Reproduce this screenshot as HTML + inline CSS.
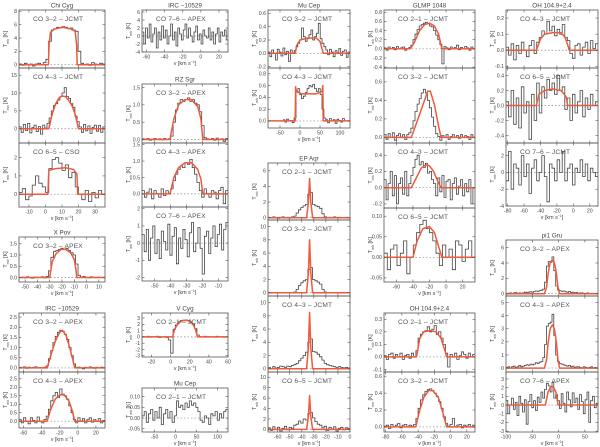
<!DOCTYPE html>
<html><head><meta charset="utf-8"><style>
html,body{margin:0;padding:0;background:#fff;}
svg{display:block;font-family:"Liberation Sans",sans-serif;}
</style></head><body>
<svg id="fig" width="600" height="447" viewBox="0 0 600 447" xmlns="http://www.w3.org/2000/svg"></svg>
<script>
// ---- observed spectra (evenly spaced over each panel's velocity range) ----
const obs_chi32=[0.1,-0.1,0.2,0,0.1,-0.2,0.1,0.2,0,0.3,0.8,3.5,5.2,5.4,5.6,5.5,5.7,5.6,5.4,5.5,5.2,5.0,2.0,0.2,0,0.1,-0.1,0.3,0.1,0,0.2,0.1];
const obs_chi43=[0.5,-1,1.2,-0.5,1.5,-1.2,0.3,1,-0.8,0.6,-1.5,1,0.2,1.5,3,5,6.5,7,8,9,10,11.5,9,8.5,7,6,3.5,2,0.5,-1,1.2,-0.6,0.8,-1.3,0.4,1,-0.7,0.9,-1,0.5];
const obs_chi65=[0.1,0.3,-0.3,-0.1,0.5,1.0,0.6,0.4,0.1,1.4,1.9,2.0,1.7,1.3,1.6,0.9,1.2,0.4,0,-0.3,0.2,-0.4,0.1,-0.2,0.2,0];
const obs_xpov32=[0,0.02,-0.02,0.03,0,-0.03,0.02,0.01,0,0.03,-0.02,0.05,0.3,0.9,1.15,1.2,1.25,1.3,1.25,1.3,1.2,1.1,1.0,0.6,0.1,0.02,0.05,0,-0.02,0.03,0.01,-0.01,0.02,0,0.01];
const obs_irc32=[0.03,0,0.05,-0.02,0.04,0,0.03,0.05,-0.01,0.02,0,0.04,0.1,0.45,0.85,1.25,1.55,1.75,1.85,1.8,1.65,1.4,1.0,0.6,0.2,0.02,0.04,0,-0.05,0.03,0,0.05,0.02,-0.02,0.03,0,0.04,0.01];
const obs_irc43=[0.1,-0.1,0.2,0,-0.15,0.2,0.05,-0.1,0.25,0,-0.1,0.1,0.3,0.7,1.2,1.5,1.7,1.4,1.9,1.6,1.5,1.3,0.9,0.5,0.1,-0.1,0.2,0,0.15,-0.1,0.1,0.2,-0.05,0.1,0,0.15,-0.1,0.05];
const obs_irc76=[1,-2,2,-0.5,3,-1.5,0.5,2,-3,1,-1,2.5,-0.5,1.5,-2,0,3,-1,1,-2.5,2,0.5,-1,1.5,3,-0.5,2,0,-1.5,1,2.5,-1,0.5,-2,1.5,0,-0.5,2,-1,1,-2,0.5,2,-1.5,1,0,1.5,-1];
const obs_rz32=[0.02,0,0.03,-0.02,0.01,0.03,0,0.02,-0.01,0.03,0,0.02,0.1,0.5,0.85,1.05,1.15,1.1,1.15,1.2,1.1,1.15,1.05,1.0,0.8,0.4,0.05,0.02,0,0.03,-0.02,0.04,0,0.02,-0.05,0.03];
const obs_rz43=[0.1,-0.1,0.05,0.15,-0.15,0.1,0,-0.1,0.15,-0.05,0.1,0,0.15,0.4,0.6,0.75,0.85,0.8,0.95,0.9,1.05,0.8,0.6,0.35,0.1,-0.1,0.15,0,-0.1,0.1,0.05,-0.15,0.1,0.2,-0.3,0.1];
const obs_rz76=[0.5,-0.5,0.8,-1,0.3,1,-0.6,0.2,-0.9,0.7,0.1,-0.4,1.1,-0.7,0.4,0.9,-1.2,0.3,-0.3,0.8,0.2,-0.8,0.6,1.2,-0.5,0,0.9,-0.3,-1.8,0.4,0.7,-0.6,0.3,1,-0.2,0.5,1.1,-0.4,0.8,1.2];
const obs_vcyg21=[0.05,0,0.1,-0.05,0.05,0,0.1,-0.1,0,0.05,-0.1,-0.5,-2.6,1.2,1.9,2.4,2.6,2.65,2.7,2.6,2.4,2.0,1.3,0.3,0.05,0,0.1,-0.05,0.05,0,-0.05,0.1,0,0.05,-0.05,0];
const obs_mucep21=[0.01,0.03,-0.02,0.02,0.04,-0.01,0.03,0,0.05,-0.03,0.02,0.04,0,0.03,-0.02,0.01,0.08,0.05,0.06,0.04,0.07,0.05,0.08,0.06,0.07,0.05,0.03,-0.01,-0.02,0.01,0,-0.03,0.02,0.01,0.03,-0.01,0.02,0,0.03,0.04];
const obs_mucep32=[0.02,-0.05,0.05,0,-0.1,0.06,0.02,-0.04,0.08,-0.02,0.03,-0.12,0.05,0,0.04,0.1,0.15,0.2,0.38,0.25,0.18,0.22,0.28,0.35,0.2,0.25,0.3,0.45,0.22,0.15,0.1,0.05,-0.02,0.06,0.02,-0.05,0.04,0.01,0.07,-0.03,0.03,0.05,-0.06,0.02];
const obs_mucep43=[null,null,null,null,null,null,null,null,0.02,-0.02,0.03,0,0.01,-0.03,0.05,0.5,0.55,0.45,0.38,0.42,0.48,0.55,0.6,0.58,0.62,0.55,0.5,0.55,0.45,0.2,0.05,0.02,-0.03,0.04,0,0.02,-0.04,0.03,0.01,-0.02,0.04,0,null,null];
const obs_ep21=[0.05,-0.05,0.1,0,-0.1,0.05,0.1,0,0.05,-0.05,0.1,0.2,0.6,1.0,1.3,1.5,1.7,3,3.2,1.7,1.5,1.4,1.2,0.5,0.1,0,0.05,-0.05,0.1,0,0.05,-0.05,0,0.05,0];
const obs_ep32=[0,0.05,-0.05,0,0.05,0,-0.05,0,0.05,0,0.05,0.1,0.5,1.1,1.5,1.8,2.0,3.5,3.8,2.0,1.8,1.6,1.3,0.5,0.1,0,0.05,0,-0.05,0,0.05,0,0,0.05,0];
const obs_ep43=[0.2,0,0.3,0.1,0.2,0.4,0.3,0.2,0.4,0.3,0.5,0.6,0.8,1.2,1.6,2,2.5,4,4.5,2.6,2.5,2.2,1.8,1.3,0.8,0.6,0.5,0.4,0.3,0.2,0.3,0.2,0.1,0.2,0.1];
const obs_ep65=[0.3,-0.2,0.5,0,0.4,-0.3,0.2,0.6,-0.1,0.4,0.2,0.8,1.0,1.6,1.2,2,1.8,3,3.2,2.2,1.5,1.0,0.8,0.3,0.6,-0.2,0.4,0.1,0.5,-0.3,0.2,0.4,-0.1,0.3,0.2];
const obs_gl21=[0.02,-0.03,0.04,0,0.03,-0.02,0.05,0,0.02,0.04,-0.03,0.01,0.03,0.08,0.2,0.32,0.42,0.5,0.53,0.56,0.58,0.55,0.5,0.48,0.4,0.3,0.2,0.1,-0.33,0.05,0.02,-0.02,0.04,0,0.03,0.08,-0.02,0.03,0,0.05,0.02,-0.03,0.04,0];
const obs_gl32=[0.03,-0.02,0.04,0,0.05,-0.03,0.02,0.04,0,0.03,-0.02,0.03,0.05,0.1,0.18,0.28,0.36,0.42,0.48,0.52,0.48,0.4,0.32,0.22,0.12,0.04,0.01,-0.03,0.02,0,0.03,-0.02,0.01,0.03,0,0.02,-0.01,0.03,0,0.02,0.01,-0.02,0.03,0];
const obs_gl43=[0.1,-0.15,0.05,0.2,-0.1,0.15,-0.2,0.05,0.12,-0.08,0.2,-0.1,0.05,0.15,0.25,0.35,0.4,0.28,0.32,0.25,0.3,0.18,0.2,0.1,0.05,-0.1,0.12,-0.05,0.15,-0.12,0.08,0.1,-0.15,0.05,0.12,-0.08,0.02,0.1,-0.1,0.05,-0.05,0.1,-0.2,0];
const obs_gl65=[0.01,-0.03,0.02,0.03,-0.02,0.01,0.04,-0.04,0.0,0.03,0.06,0.08,0.09,0.07,0.06,0.04,0.01,-0.02,0.03,0,0.02,-0.03,0.04,0.03,-0.01,0.02,0.04,0];
const obs_oh21=[0.01,-0.02,0.02,0.03,-0.01,0.02,0,0.03,-0.02,0.01,0.02,-0.01,0.03,0,0.05,0.15,0.18,0.2,0.21,0.24,0.2,0.22,0.25,0.18,0.2,0.15,0.1,0.03,-0.08,0.02,0,0.03,-0.02,0.01,0.04,0.02,-0.01,0.03,0,0.02];
const obs_oh32=[0.01,0.02,-0.02,0.03,0,0.02,0.04,-0.01,0.02,0.03,0,0.02,0.01,0.03,0.1,0.22,0.32,0.38,0.42,0.44,0.45,0.43,0.4,0.36,0.3,0.22,0.12,0.04,0.01,0.03,0.1,0,0.02,0.03,-0.01,0.02,0.01,0.03,0,0.02];
const obs_oh43=[0.02,-0.03,0.04,-0.06,0.03,-0.02,0.05,0,-0.04,0.03,0.06,-0.02,0.05,0.08,0.12,0.1,0.18,0.12,0.15,0.09,0.13,0.1,0.16,0.08,0.06,-0.02,-0.05,0.03,0.04,-0.03,0.02,0.05,-0.02,0.06,0.01,0.04];
const obs_oh65=[0.05,-0.15,0.2,-0.25,0.1,-0.3,0.25,-0.1,0.05,-0.45,0.15,-0.2,0.3,-0.1,0.25,0.1,0.35,0.2,0.3,0.15,0.4,0.2,0.25,-0.05,0.1,-0.2,0.15,-0.1,0.05,0.2,-0.15,0.1,-0.05,0.15,0,0.05];
const obs_oh76=[-1,2.5,-2,1,0.5,-1.5,2,-0.5,1,-2.5,0.5,1.5,-1,0,2,-0.5,-3.5,1,0.5,-1,1.5,0,2.5,-1,0.5,1,-1.5,0.5,0,1.5,-0.5,1,-1,0.5,0,-0.5];
const obs_pi32=[0,0.05,0.1,-0.05,0.1,0.15,0,0.1,0.05,0.1,0.2,0.15,0.2,0.25,0.2,0.3,0.35,0.3,0.4,0.45,0.6,1.5,3.6,4.2,4.1,4.8,3.0,1.0,0.5,0.4,0.3,0.35,0.25,0.2,0.3,0.15,0.2,0.1,0.15,0.05,0.1,0.1,0,0.05,0.1,0,0.05,-0.05,0.05,0];
const obs_pi43=[0.05,0.1,0,0.1,0.15,0.05,0.1,0.2,0.1,0.15,0.2,0.25,0.2,0.3,0.25,0.3,0.4,0.35,0.45,0.5,0.8,1.8,3.2,3.4,3.5,4.1,2.5,1.0,0.5,0.35,0.3,0.25,0.2,0.15,0.2,0.1,0.15,0.05,0.1,0.1,0.05,0,0.1,0.05,0,0.05,0.1,0,0.05,0];
const obs_pi76=[0.5,-1,0,0.8,-0.5,0.3,-1.2,1,0.2,-0.8,0.6,-2.2,0.4,1.2,-0.3,0.5,-0.6,0.9,0.3,1.5,0.8,1.8,2.5,2.2,1.5,2.6,0.8,1.2,0.5,-0.4,1.3,0.2,-0.8,1.5,0.6,-0.2,1.4,0.3,0.8,-0.5,1.2,0.4,-1,0.6,1.5,-2,0.5,1,-0.3,0.2];
// ---- model profiles: [velocity, T] vertices ----
const mod_chi32=[[-16,0],[1.8,0],[2.2,3],[3,4.8],[5,5.3],[10,5.6],[15,5.4],[18,5],[18.8,3],[19.2,0],[36,0]];
const mod_chi43=[[-16,0],[2,0],[4,4],[6,6.8],[8,8.5],[10,9.2],[12,9],[14,8],[16,6.5],[18,4],[20,0],[36,0]];
const mod_chi65=[[-16,0],[1.5,0],[2,1.3],[6,1.4],[12,1.45],[17,1.35],[19,1.1],[19.5,0],[36,0]];
const mod_xpov32=[[-55,0],[-30,0],[-28,0.7],[-25,1.05],[-21,1.25],[-17,1.25],[-13,1.1],[-10,0.8],[-8.5,0.3],[-8,0],[15,0]];
const mod_irc32=[[-65,0],[-34,0],[-30,0.6],[-25,1.3],[-20,1.75],[-17,1.85],[-13,1.6],[-9,1.0],[-5,0.3],[-3.5,0],[30,0]];
const mod_irc43=[[-65,0],[-34,0],[-30,0.7],[-25,1.3],[-20,1.55],[-15,1.55],[-10,1.2],[-6,0.6],[-3.5,0],[30,0]];
const mod_rz32=[[-58,0],[-40.5,0],[-38,0.6],[-35,1.0],[-31,1.15],[-27,1.15],[-23,0.95],[-21,0.6],[-19.8,0],[-4,0]];
const mod_rz43=[[-58,0],[-40.5,0],[-38,0.5],[-35,0.8],[-31,0.95],[-27,0.95],[-23,0.75],[-21,0.45],[-19.8,0],[-4,0]];
const mod_vcyg21=[[-30,0],[2,0],[4,1.2],[8,2.2],[13,2.6],[18,2.6],[23,2.1],[26,1.2],[28,0],[60,0]];
const mod_mucep32=[[-80,0],[-12,0],[-8,0.12],[0,0.2],[20,0.23],[40,0.23],[50,0.18],[56,0.05],[58,0],[125,0]];
const mod_mucep43=[[-80,0],[-12,0],[-11,0.58],[-9,0.5],[5,0.46],[40,0.46],[55,0.5],[57,0.6],[58,0],[125,0]];
const mod_ep21=[[-68,0],[-36,0],[-34.5,2],[-33.5,5],[-32.5,2],[-31,0],[0,0]];
const mod_ep32=[[-68,0],[-36,0],[-34.5,3],[-33.5,8],[-32.5,3],[-31,0],[0,0]];
const mod_ep43=[[-68,0],[-36,0],[-34.5,3.2],[-33.5,8.5],[-32.5,3.2],[-31,0],[0,0]];
const mod_ep65=[[-68,0],[-36,0],[-34.5,2.5],[-33.5,6.5],[-32.5,2.5],[-31,0],[0,0]];
const mod_gl21=[[-75,0],[-43,0],[-38,0.15],[-32,0.4],[-26,0.53],[-20,0.56],[-14,0.5],[-9,0.32],[-6,0.08],[-5,0],[35,0]];
const mod_gl32=[[-75,0],[-42,0],[-36,0.15],[-28,0.35],[-22,0.5],[-19,0.5],[-14,0.35],[-9,0.12],[-6,0],[35,0]];
const mod_gl43=[[-75,0],[-42,0],[-36,0.12],[-30,0.24],[-25,0.28],[-20,0.27],[-15,0.2],[-10,0.08],[-6,0],[35,0]];
const mod_gl65=[[-75,0],[-40,0],[-35,0.04],[-28,0.07],[-20,0.075],[-14,0.06],[-8,0.02],[-5,0],[35,0]];
const mod_oh21=[[-82,0],[-42,0],[-38,0.15],[-33,0.2],[-25,0.21],[-18,0.2],[-12,0.15],[-7,0.05],[-5,0],[30,0]];
const mod_oh32=[[-82,0],[-43,0],[-38,0.2],[-33,0.35],[-27,0.43],[-22,0.43],[-15,0.35],[-9,0.15],[-5,0],[30,0]];
const mod_oh43=[[-82,0],[-45,0],[-40,0.07],[-35,0.1],[-25,0.11],[-15,0.11],[-10,0.08],[-6,0.02],[-5,0],[30,0]];
const mod_oh65=[[-82,0],[-45,0],[-42,0.15],[-35,0.2],[-25,0.22],[-15,0.2],[-9,0.12],[-7,0],[30,0]];
const mod_pi32=[[-100,0],[-27,0],[-23,0.8],[-20,2.6],[-16,4.1],[-12,4.4],[-8,4.1],[-4,2.6],[-1,0.8],[2,0],[75,0]];
const mod_pi43=[[-100,0],[-27,0],[-23,0.6],[-20,1.9],[-16,3.0],[-12,3.3],[-8,3.0],[-4,1.9],[-1,0.6],[2,0],[75,0]];
const mod_pi76=[[-100,0],[-25,0],[-20,1.5],[-15,2.1],[-10,2.1],[-5,1.5],[-1,0],[75,0]];
// ---- tick labels ----
const xt_chi=[-10,0,10,20,30], xt_xpov=[-50,-40,-30,-20,-10,0,10], xt_irc=[-60,-40,-20,0,20];
const xt_rz=[-50,-40,-30,-20,-10], xt_vcyg=[-20,0,20,40,60], xt_mucep=[-50,0,50,100];
const xt_ep=[-60,-50,-40,-30,-20,-10,0], xt_gl=[-60,-40,-20,0,20], xt_oh=[-80,-60,-40,-20,0,20], xt_pi=[-100,-50,0,50];

const NS="http://www.w3.org/2000/svg";
const svg=document.getElementById('fig');
function mk(tag,attrs,parent){const e=document.createElementNS(NS,tag);for(const k in attrs)e.setAttribute(k,attrs[k]);(parent||svg).appendChild(e);return e;}
function fmt(v,step){const d=step<0.1?2:(step<1?1:0);return v.toFixed(d);}

function panel(p){
  const g=mk('g',{});
  
  
  const sx=v=>p.x0+(v-p.xr[0])/(p.xr[1]-p.xr[0])*(p.x1-p.x0);
  const sy=t=>p.y1-(t-p.yr[0])/(p.yr[1]-p.yr[0])*(p.y1-p.y0);
  mk('clipPath',{id:'c_'+p.name},g); mk('rect',{x:p.x0,y:p.y0,width:p.x1-p.x0,height:p.y1-p.y0},g.lastChild);
  const z=mk('line',{x1:p.x0,x2:p.x1,y1:sy(0),y2:sy(0),stroke:'#888','stroke-width':0.7,'stroke-dasharray':'1.5,2'},g);
  
  
  if(p.obs){const n=p.obs.length,st=(p.xr[1]-p.xr[0])/n;let d='',pen=false;
    p.obs.forEach((t,i)=>{if(t===null){pen=false;return;}const a=sx(p.xr[0]+i*st),b=sx(p.xr[0]+(i+1)*st),y=sy(t);
      d+=(pen?'L':'M')+a.toFixed(1)+','+y.toFixed(1)+'L'+b.toFixed(1)+','+y.toFixed(1);pen=true;});
    const o=mk('path',{d:d,fill:'none',stroke:'#444','stroke-width':0.8,'clip-path':'url(#c_'+p.name+')'},g);
    
    }
  if(p.mod){const d=p.mod.map((q,i)=>(i?'L':'M')+sx(q[0]).toFixed(1)+','+sy(q[1]).toFixed(1)).join('');
    const m=mk('path',{d:d,fill:'none',stroke:'#ee5a3c','stroke-width':1.5,'stroke-linejoin':'round','clip-path':'url(#c_'+p.name+')'},g);
    
    }
  const fr=mk('rect',{x:p.x0,y:p.y0,width:p.x1-p.x0,height:p.y1-p.y0,fill:'none',stroke:'#555','stroke-width':0.8},g);
  
  
  p.yt.forEach(t=>{const y=sy(t);mk('line',{x1:p.x0,x2:p.x0+2.5,y1:y,y2:y,stroke:'#555','stroke-width':0.6},g);
    mk('line',{x1:p.x1,x2:p.x1-2.5,y1:y,y2:y,stroke:'#555','stroke-width':0.6},g);
    const tl=mk('text',{x:p.x0-2,y:y+1.8,'font-size':5.2,fill:'#444','text-anchor':'end'},g);tl.textContent=fmt(t,p.yt[1]-p.yt[0]);
    
    });
  p.xt.forEach(v=>{const x=sx(v);mk('line',{x1:x,x2:x,y1:p.y1,y2:p.y1-2.5,stroke:'#555','stroke-width':0.6},g);
    mk('line',{x1:x,x2:x,y1:p.y0,y2:p.y0+2.5,stroke:'#555','stroke-width':0.6},g);
    if(p.bottom){const tl=mk('text',{x:x,y:p.y1+6.5,'font-size':5.2,fill:'#444','text-anchor':'middle'},g);tl.textContent=v;
      
      }});
  if(p.bottom){const xl=mk('text',{x:(p.x0+p.x1)/2,y:p.y1+13,'font-size':5.4,fill:'#444','text-anchor':'middle'},g);
    xl.innerHTML='v [km s<tspan baseline-shift="super" font-size="3.5">−1</tspan>]';
    
    }
  const yl=mk('text',{x:0,y:0,'font-size':5.4,fill:'#444','text-anchor':'middle',transform:`translate(${p.x0-12},${(p.y0+p.y1)/2}) rotate(-90)`},g);
  yl.innerHTML='T<tspan baseline-shift="sub" font-size="3.5">mb</tspan> [K]';
  
  
  const lb=mk('text',{x:p.x0+14,y:p.y0+11,'font-size':6.6,fill:'#555','letter-spacing':'0.2'},g);lb.textContent=p.label;
  
  
  if(p.title){const tt=mk('text',{x:(p.x0+p.x1)/2,y:p.y0-2.5,'font-size':6.3,fill:'#444','text-anchor':'middle'},g);tt.textContent=p.title;
    
    }
}
const C1=[19,105],C2=[142,228],C3=[268,350],C4=[384,475],C5=[506,598];
const P=[
 {name:'chicyg-co32',c:C1,y0:10,y1:68,xr:[-16,36],yr:[-0.5,8.2],yt:[0,2,4,6,8],xt:xt_chi,obs:obs_chi32,mod:mod_chi32,label:'CO 3–2 – JCMT',title:'Chi Cyg'},
 {name:'chicyg-co43',c:C1,y0:68,y1:143,xr:[-16,36],yr:[-4,17],yt:[0,5,10,15],xt:xt_chi,obs:obs_chi43,mod:mod_chi43,label:'CO 4–3 – JCMT'},
 {name:'chicyg-co65',c:C1,y0:143,y1:207,xr:[-16,36],yr:[-0.7,2.8],yt:[0,1,2],xt:xt_chi,obs:obs_chi65,mod:mod_chi65,label:'CO 6–5 – CSO',bottom:1},
 {name:'xpov-co32',c:C1,y0:237,y1:282,xr:[-55,15],yr:[-0.2,1.8],yt:[0,0.5,1,1.5],xt:xt_xpov,obs:obs_xpov32,mod:mod_xpov32,label:'CO 3–2 – APEX',title:'X Pov',bottom:1},
 {name:'irc10529-co32',c:C1,y0:313,y1:372,xr:[-65,30],yr:[-0.2,2.7],yt:[0,0.5,1,1.5,2,2.5],xt:xt_irc,obs:obs_irc32,mod:mod_irc32,label:'CO 3–2 – APEX',title:'IRC −10529'},
 {name:'irc10529-co43',c:C1,y0:372,y1:428,xr:[-65,30],yr:[-0.4,2.9],yt:[0,0.5,1,1.5,2,2.5],xt:xt_irc,obs:obs_irc43,mod:mod_irc43,label:'CO 4–3 – APEX',bottom:1},
 {name:'irc10529-co76',c:C2,y0:10,y1:52,xr:[-65,30],yr:[-4,6.5],yt:[-4,-2,0,2,4,6],xt:xt_irc,obs:obs_irc76,label:'CO 7–6 – APEX',title:'IRC −10529',bottom:1},
 {name:'rzsgr-co32',c:C2,y0:84,y1:143,xr:[-58,-4],yr:[-0.1,1.6],yt:[0,0.5,1,1.5],xt:xt_rz,obs:obs_rz32,mod:mod_rz32,label:'CO 3–2 – APEX',title:'RZ Sgr'},
 {name:'rzsgr-co43',c:C2,y0:143,y1:207,xr:[-58,-4],yr:[-0.4,1.55],yt:[0,0.5,1,1.5],xt:xt_rz,obs:obs_rz43,mod:mod_rz43,label:'CO 4–3 – APEX'},
 {name:'rzsgr-co76',c:C2,y0:207,y1:281,xr:[-58,-4],yr:[-2.2,2.1],yt:[-2,-1,0,1,2],xt:xt_rz,obs:obs_rz76,label:'CO 7–6 – APEX',bottom:1},
 {name:'vcyg-co21',c:C2,y0:313,y1:357,xr:[-30,60],yr:[-3.2,3.8],yt:[-3,-2,-1,0,1,2,3],xt:xt_vcyg,obs:obs_vcyg21,mod:mod_vcyg21,label:'CO 2–1 – JCMT',title:'V Cyg',bottom:1},
 {name:'mucep-co21',c:C2,y0:388,y1:432,xr:[-80,125],yr:[-0.065,0.14],yt:[-0.05,0,0.05,0.1],xt:xt_mucep,obs:obs_mucep21,label:'CO 2–1 – JCMT',title:'Mu Cep',bottom:1},
 {name:'mucep-co32',c:C3,y0:10,y1:68,xr:[-80,125],yr:[-0.22,0.65],yt:[-0.2,0,0.2,0.4,0.6],xt:xt_mucep,obs:obs_mucep32,mod:mod_mucep32,label:'CO 3–2 – JCMT',title:'Mu Cep'},
 {name:'mucep-co43',c:C3,y0:68,y1:128,xr:[-80,125],yr:[-0.12,0.9],yt:[0,0.2,0.4,0.6,0.8],xt:xt_mucep,obs:obs_mucep43,mod:mod_mucep43,label:'CO 4–3 – JCMT',bottom:1},
 {name:'epaqr-co21',c:C3,y0:163,y1:220,xr:[-68,0],yr:[-0.3,7],yt:[0,2,4,6],xt:xt_ep,obs:obs_ep21,mod:mod_ep21,label:'CO 2–1 – JCMT',title:'EP Aqr'},
 {name:'epaqr-co32',c:C3,y0:220,y1:296,xr:[-68,0],yr:[-0.5,11],yt:[0,2,4,6,8,10],xt:xt_ep,obs:obs_ep32,mod:mod_ep32,label:'CO 3–2 – JCMT'},
 {name:'epaqr-co43',c:C3,y0:296,y1:372,xr:[-68,0],yr:[-0.5,11],yt:[0,2,4,6,8,10],xt:xt_ep,obs:obs_ep43,mod:mod_ep43,label:'CO 4–3 – JCMT'},
 {name:'epaqr-co65',c:C3,y0:372,y1:432,xr:[-68,0],yr:[-0.5,11],yt:[0,2,4,6,8,10],xt:xt_ep,obs:obs_ep65,mod:mod_ep65,label:'CO 6–5 – JCMT',bottom:1},
 {name:'glmp1048-co21',c:C4,y0:10,y1:68,xr:[-75,35],yr:[-0.42,0.85],yt:[-0.4,-0.2,0,0.2,0.4,0.6,0.8],xt:xt_gl,obs:obs_gl21,mod:mod_gl21,label:'CO 2–1 – JCMT',title:'GLMP 1048'},
 {name:'glmp1048-co32',c:C4,y0:68,y1:143,xr:[-75,35],yr:[-0.06,0.75],yt:[0,0.2,0.4,0.6],xt:xt_gl,obs:obs_gl32,mod:mod_gl32,label:'CO 3–2 – JCMT'},
 {name:'glmp1048-co43',c:C4,y0:143,y1:208,xr:[-75,35],yr:[-0.25,0.55],yt:[-0.2,0,0.2,0.4],xt:xt_gl,obs:obs_gl43,mod:mod_gl43,label:'CO 4–3 – JCMT'},
 {name:'glmp1048-co65',c:C4,y0:208,y1:282,xr:[-75,35],yr:[-0.06,0.12],yt:[-0.05,0,0.05,0.1],xt:xt_gl,obs:obs_gl65,mod:mod_gl65,label:'CO 6–5 – JCMT',bottom:1},
 {name:'oh104-co21',c:C4,y0:313,y1:372,xr:[-82,30],yr:[-0.12,0.35],yt:[-0.1,0,0.1,0.2,0.3],xt:xt_oh,obs:obs_oh21,mod:mod_oh21,label:'CO 2–1 – JCMT',title:'OH 104.9+2.4'},
 {name:'oh104-co32',c:C4,y0:372,y1:432,xr:[-82,30],yr:[-0.06,0.65],yt:[0,0.2,0.4,0.6],xt:xt_oh,obs:obs_oh32,mod:mod_oh32,label:'CO 3–2 – JCMT',bottom:1},
 {name:'oh104-co43',c:C5,y0:10,y1:68,xr:[-82,30],yr:[-0.11,0.25],yt:[-0.1,0,0.1,0.2],xt:xt_oh,obs:obs_oh43,mod:mod_oh43,label:'CO 4–3 – JCMT',title:'OH 104.9+2.4'},
 {name:'oh104-co65',c:C5,y0:68,y1:143,xr:[-82,30],yr:[-0.5,0.5],yt:[-0.4,-0.2,0,0.2,0.4],xt:xt_oh,obs:obs_oh65,mod:mod_oh65,label:'CO 6–5 – JCMT'},
 {name:'oh104-co76',c:C5,y0:143,y1:206,xr:[-82,30],yr:[-4,3.5],yt:[-4,-2,0,2],xt:xt_oh,obs:obs_oh76,label:'CO 7–6 – JCMT',bottom:1},
 {name:'pi1gru-co32',c:C5,y0:240,y1:296,xr:[-100,75],yr:[-0.3,7],yt:[0,2,4,6],xt:xt_pi,obs:obs_pi32,mod:mod_pi32,label:'CO 3–2 – APEX',title:'pi1 Gru'},
 {name:'pi1gru-co43',c:C5,y0:296,y1:372,xr:[-100,75],yr:[-0.3,5.5],yt:[0,1,2,3,4,5],xt:xt_pi,obs:obs_pi43,mod:mod_pi43,label:'CO 4–3 – APEX'},
 {name:'pi1gru-co76',c:C5,y0:372,y1:432,xr:[-100,75],yr:[-3.1,3.8],yt:[-3,-2,-1,0,1,2,3],xt:xt_pi,obs:obs_pi76,mod:mod_pi76,label:'CO 7–6 – APEX',bottom:1}
];
P.forEach(p=>{p.x0=p.c[0];p.x1=p.c[1];panel(p);});
</script>
</body></html>
